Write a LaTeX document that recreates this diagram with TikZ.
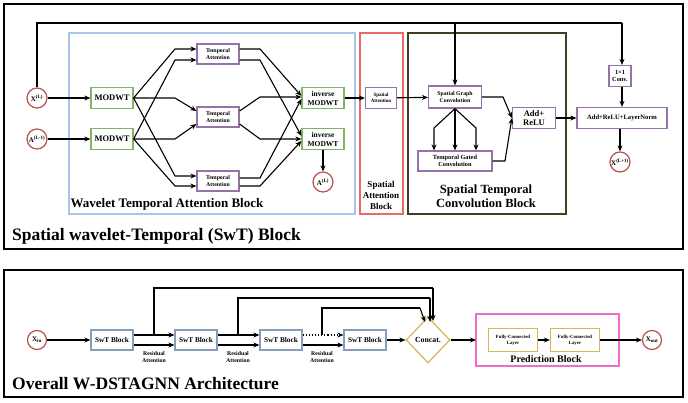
\documentclass[tikz,border=0pt]{standalone}
\usepackage{fontspec}
\setmainfont{Liberation Serif}
\usetikzlibrary{arrows.meta,shapes.geometric}
\definecolor{pur}{HTML}{9673A6}
\definecolor{grn}{HTML}{82B366}
\definecolor{blu}{HTML}{A9C4EB}
\definecolor{rd}{HTML}{B85450}
\definecolor{rdl}{HTML}{EA6B66}
\definecolor{olv}{HTML}{3F3F1F}
\definecolor{gld}{HTML}{D6B656}
\definecolor{pnk}{HTML}{F06CC8}
\tikzset{
 x=1pt,y=-1pt,
 every node/.style={font=\bfseries, align=center, inner sep=0pt},
 bx/.style={draw=#1, line width=1.2pt, fill=white},
 circ/.style={circle, draw=rd, line width=1.2pt, minimum size=20pt, font=\bfseries\fontsize{7}{8}\selectfont},
 ar/.style={-{Stealth[length=6pt,width=5pt]}, line width=1.1pt},
 ln/.style={line width=1.1pt},
 t7/.style={font=\bfseries\fontsize{8.5}{9.5}\selectfont},
 t5/.style={font=\bfseries\fontsize{5.8}{6.5}\selectfont},
}
\begin{document}
\begin{tikzpicture}
\useasboundingbox (0,0) rectangle (688,403);
\fill[white] (0,0) rectangle (688,403);
% outer frames
\draw[line width=1.2pt] (4,4) rectangle (683,249);
\draw[line width=1.2pt] (4,270) rectangle (683,397);
\draw[blu, line width=1.2pt] (69,33) rectangle (355,214);
\draw[rdl, line width=1.2pt] (360,33) rectangle (403,214);
\draw[olv, line width=1.2pt] (408,33) rectangle (566,214);
\node[font=\bfseries\fontsize{13}{14}\selectfont] (wtab) at (167,204) {Wavelet Temporal Attention Block};
\node[font=\bfseries\fontsize{9}{11}\selectfont] (sab) at (381,195) {Spatial\\Attention\\Block};
\node[font=\bfseries\fontsize{12.5}{14}\selectfont] (stcb) at (486,196) {Spatial Temporal\\Convolution Block};
\node[anchor=west,font=\bfseries\fontsize{17.5}{18}\selectfont] (t1) at (12,236) {Spatial wavelet-Temporal (SwT) Block};
\node[anchor=west,font=\bfseries\fontsize{17.5}{18}\selectfont] (t2) at (12,384) {Overall W-DSTAGNN Architecture};
% top nodes
\node[circ] (x) at (37,98) {X\textsuperscript{(L)}};
\node[circ] (a) at (37,139) {A\textsuperscript{(L-1)}};
\node[bx=grn, t7, minimum width=42pt, minimum height=21pt] (m1) at (112,98) {MODWT};
\node[bx=grn, t7, minimum width=42pt, minimum height=21pt] (m2) at (112,139) {MODWT};
\node[bx=pur, t5, minimum width=42pt, minimum height=20pt] (ta1) at (218,54) {Temporal\\[1pt]Attention};
\node[bx=pur, t5, minimum width=42pt, minimum height=20pt] (ta2) at (218,117) {Temporal\\[1pt]Attention};
\node[bx=pur, t5, minimum width=42pt, minimum height=20pt] (ta3) at (218,181) {Temporal\\[1pt]Attention};
\node[bx=grn, font=\bfseries\fontsize{7.5}{9}\selectfont, minimum width=42pt, minimum height=21pt] (i1) at (323,98) {inverse\\MODWT};
\node[bx=grn, font=\bfseries\fontsize{7.5}{9}\selectfont, minimum width=42pt, minimum height=21pt] (i2) at (323,139) {inverse\\MODWT};
\node[circ] (al) at (323,182) {A\textsuperscript{(L)}};
\node[bx=pur, font=\bfseries\fontsize{5}{6}\selectfont, minimum width=31pt, minimum height=21pt] (sa) at (381,98) {Spatial\\Attention};
\node[bx=pur, t5, minimum width=53pt, minimum height=22pt] (sgc) at (455,97) {Spatial Graph\\Convolution};
\node[bx=pur, font=\bfseries\fontsize{6.3}{7.5}\selectfont, minimum width=74pt, minimum height=20pt] (tgc) at (455,161) {Temporal Gated\\Convolution};
\node[bx=pur, t7, minimum width=43pt, minimum height=21pt] (ar) at (534,118) {Add+\\ReLU};
\node[bx=pur, font=\bfseries\fontsize{6.3}{7.5}\selectfont, minimum width=22pt, minimum height=21pt] (cv) at (620,76) {1×1\\Conv.};
\node[bx=pur, font=\bfseries\fontsize{6.6}{7}\selectfont, minimum width=90pt, minimum height=21pt] (ln) at (622,118) {Add+ReLU+LayerNorm};
\node[circ] (xo) at (620,162) {X\textsuperscript{(L+1)}};
% top edges
\draw[ar] (x) -- (m1);
\draw[ar] (a) -- (m2);
\draw[ln] (x.north) -- (37,23) -- (622,23);
\draw[ar] (622,23) -- (cv.north -| 622,0);
\draw[ar] (455,23) -- (sgc.north);
\draw[ar] (m1.east) -- (175,49) -- (ta1.west |- 0,49);
\draw[ar] (m2.east) -- (175,60) -- (ta1.west |- 0,60);
\draw[ar] (m1.east) -- (175,98) -- (ta2.west |- 0,111);
\draw[ar] (m2.east) -- (175,139) -- (ta2.west |- 0,124);
\draw[ar] (m1.east) -- (175,176) -- (ta3.west |- 0,176);
\draw[ar] (m2.east) -- (175,186) -- (ta3.west |- 0,186);
\draw[ar] (ta1.east |- 0,49) -- (260,49) -- (i1.west |- 0,96);
\draw[ar] (ta1.east |- 0,60) -- (260,60) -- (i2.west |- 0,136);
\draw[ar] (ta2.east |- 0,111) -- (260,97) -- (i1.west |- 0,97);
\draw[ar] (ta2.east |- 0,124) -- (260,139) -- (i2.west |- 0,139);
\draw[ar] (ta3.east |- 0,178) -- (260,178) -- (i1.west |- 0,99);
\draw[ar] (ta3.east |- 0,186) -- (260,186) -- (i2.west |- 0,141);
\draw[ar] (i2) -- (al);
\draw[ar] (i1) -- (sa);
\draw[ar] (sa) -- (sgc);
\draw[ar] (sgc.south) -- (434,128) -- (tgc.north -| 434,0);
\draw[ar] (sgc.south) -- (tgc.north);
\draw[ar] (sgc.south) -- (476,128) -- (tgc.north -| 476,0);
\draw[ar] (sgc.east) -- (503,97) -- (ar.west);
\draw[ar] (tgc.east) -- (505,161) -- (ar.west);
\draw[ar] (ar) -- (ln);
\draw[ar] (cv.south -| 622,0) -- (ln.north -| 622,0);
\draw[ar] (ln.south -| 620,0) -- (xo);
% bottom
\node[circ, minimum size=19pt] (xin) at (37,340) {X\textsubscript{in}};
\foreach \n/\xx in {s1/112,s2/196,s3/281,s4/365}
  \node[bx=blu!80!black, font=\bfseries\fontsize{7.3}{8}\selectfont, minimum width=42pt, minimum height=20pt] (\n) at (\xx,340) {SwT Block};
\node[diamond, draw=gld, line width=1.2pt, minimum width=44pt, minimum height=46pt, font=\bfseries\fontsize{7.8}{8}\selectfont] (cc) at (428,340) {Concat.};
\draw[pnk, line width=1.2pt] (476,314) rectangle (619,366);
\node[bx=gld, font=\bfseries\fontsize{4.8}{6}\selectfont, minimum width=49pt, minimum height=23pt] (f1) at (513,340) {Fully-Connected\\Layer};
\node[bx=gld, font=\bfseries\fontsize{4.8}{6}\selectfont, minimum width=49pt, minimum height=23pt] (f2) at (575,340) {Fully-Connected\\Layer};
\node[font=\bfseries\fontsize{10}{11}\selectfont] (pb) at (546,359) {Prediction Block};
\node[circ, minimum size=19pt] (xout) at (652,340) {X\textsubscript{out}};
\draw[ar] (xin) -- (s1);
\draw[ar] (s1.east |- 0,335) -- (s2.west |- 0,335);
\draw[ar] (s1.east |- 0,345) -- (s2.west |- 0,345);
\draw[ar] (s2.east |- 0,335) -- (s3.west |- 0,335);
\draw[ar] (s2.east |- 0,345) -- (s3.west |- 0,345);
\draw[ar, dotted] (s3.east |- 0,335) -- (s4.west |- 0,335);
\draw[ar] (s3.east |- 0,345) -- (s4.west |- 0,345);
\foreach \n/\xx in {r1/154,r2/238,r3/322}
  \node[font=\bfseries\fontsize{5.8}{7}\selectfont] (\n) at (\xx,357) {Residual\\Attention};
\draw[ln] (154,335) -- (154,288) -- (433,288);
\draw[ar] (433,288) -- (433,321);
\draw[ln] (238,335) -- (238,298) -- (430,298);
\draw[ar] (430,298) -- (430,322);
\draw[ln] (322,335) -- (322,308) -- (420,308);
\draw[ar] (420,308) -- (425,322);
\draw[ar] (s4) -- (cc);
\draw[ar] (cc.east) -- (476,340);
\draw[ar] (f1) -- (f2);
\draw[ar] (f2) -- (xout);
\end{tikzpicture}
\end{document}
